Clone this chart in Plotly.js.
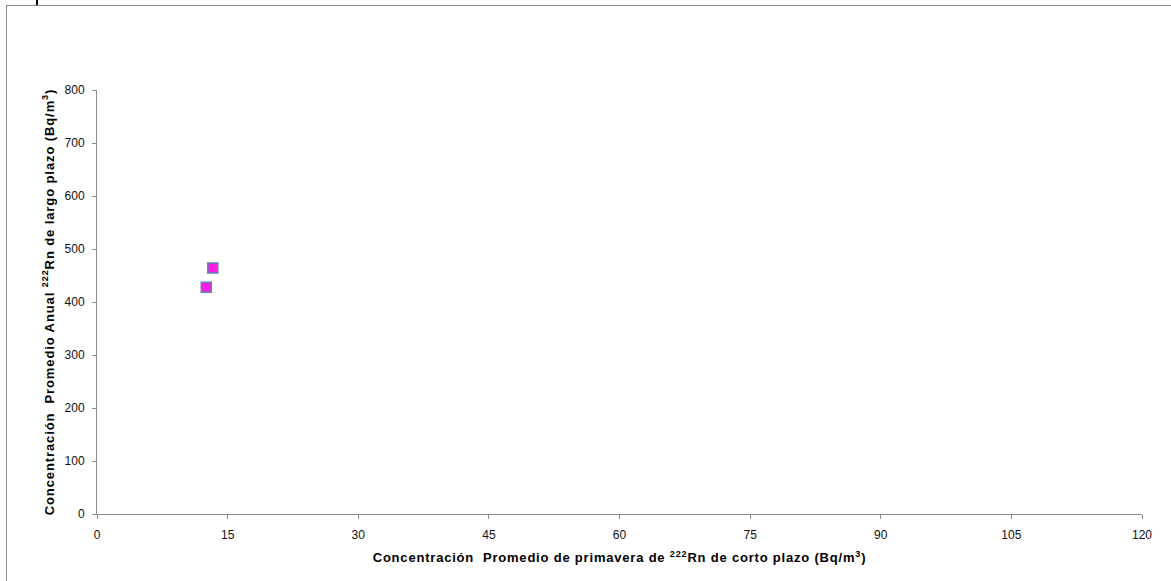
<!DOCTYPE html>
<html><head><meta charset="utf-8">
<script src="https://cdn.plot.ly/plotly-3.0.1.min.js"></script>
<style>
body{margin:0;padding:0;background:#fff;}
#wrap{position:relative;width:1171px;height:581px;overflow:hidden;}
#frame{position:absolute;left:6px;top:5px;width:1300px;height:700px;border:1.5px solid #8c8c8c;pointer-events:none;}
#mark{position:absolute;left:36px;top:0;width:2px;height:5px;background:#000;}
#plot{position:absolute;left:0;top:0;width:1171px;height:581px;}
.xtitle{letter-spacing:0.8px;}
.ytitle{letter-spacing:0.9px;}
</style></head>
<body><div id="wrap"><div id="plot"></div><div id="frame"></div><div id="mark"></div></div>
<script>
const xValues = [12.55, 13.3];
const yValues = [428, 464];
const xTicks = [0, 15, 30, 45, 60, 75, 90, 105, 120];
const yTicks = [0, 100, 200, 300, 400, 500, 600, 700, 800];

const trace = {
  x: xValues, y: yValues, type: 'scatter', mode: 'markers',
  marker: {symbol: 'square', size: 10, color: '#ff1ee0', line: {color: '#5b84b8', width: 1.5}},
  showlegend: false, hoverinfo: 'skip'
};
const tickFont = {family: 'Liberation Sans, Arial, sans-serif', size: 12, color: '#111'};
const titleFont = {family: 'Liberation Sans, Arial, sans-serif', size: 13, color: '#000', weight: 'bold'};
const layout = {
  width: 1171, height: 581,
  margin: {l: 97, r: 29, t: 90, b: 67},
  paper_bgcolor: '#fff', plot_bgcolor: '#fff',
  xaxis: {
    range: [0, 120], tickvals: xTicks, ticktext: xTicks.map(String),
    showgrid: false, zeroline: false, showline: true, linecolor: '#8c8c8c', linewidth: 1,
    ticks: 'outside', ticklen: 4, tickcolor: '#8c8c8c', tickfont: tickFont, ticklabelstandoff: 6,
    title: {text: '<b>Concentración  Promedio de primavera de <sup>222</sup>Rn de corto plazo (Bq/m<sup>3</sup>)</b>', font: titleFont, standoff: 11}
  },
  yaxis: {
    range: [0, 800], tickvals: yTicks, ticktext: yTicks.map(String),
    showgrid: false, zeroline: false, showline: true, linecolor: '#8c8c8c', linewidth: 1,
    ticks: 'outside', ticklen: 4, tickcolor: '#8c8c8c', tickfont: tickFont, ticklabelstandoff: 5,
    title: {text: '<b>Concentración  Promedio Anual <sup>222</sup>Rn de largo plazo (Bq/m<sup>3</sup>)</b>', font: titleFont, standoff: 7}
  }
};
Plotly.newPlot('plot', [trace], layout, {staticPlot: true, displayModeBar: false});
</script></body></html>
